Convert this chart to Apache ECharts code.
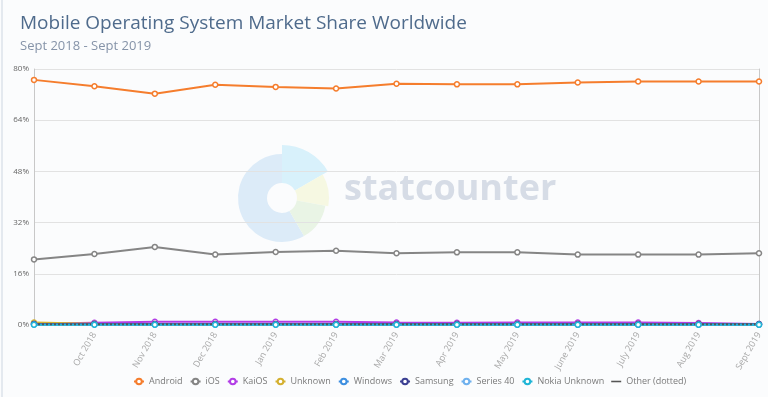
<!DOCTYPE html>
<html>
<head>
<meta charset="utf-8">
<script src="https://cdn.jsdelivr.net/npm/echarts@6/dist/echarts.min.js"></script>
<style>html,body{margin:0;padding:0;background:#fbfcfd;}#c{width:768px;height:397px;}</style>
</head>
<body>
<div id="c"></div>
<script>
const categories = ['Sept 2018','Oct 2018','Nov 2018','Dec 2018','Jan 2019','Feb 2019','Mar 2019','Apr 2019','May 2019','June 2019','July 2019','Aug 2019','Sept 2019'];
const yTicks = [0, 16, 32, 48, 64, 80];
const android = [76.6, 74.6, 72.3, 75.1, 74.4, 73.9, 75.4, 75.2, 75.2, 75.8, 76.1, 76.1, 76.1];
const ios = [20.5, 22.2, 24.4, 22.0, 22.8, 23.2, 22.4, 22.7, 22.7, 22.0, 22.0, 22.0, 22.4];
const kaios = [0.4, 0.7, 1.0, 1.0, 1.0, 1.0, 0.8, 0.7, 0.8, 0.8, 0.8, 0.6, 0.3];
const unknown = [0.8, 0.4, 0.3, 0.3, 0.3, 0.3, 0.3, 0.3, 0.3, 0.3, 0.3, 0.3, 0.2];
const windows = [0.3, 0.3, 0.2, 0.2, 0.2, 0.1, 0.1, 0.1, 0.1, 0.1, 0.1, 0.1, 0.1];
const samsung = [0.3, 0.3, 0.3, 0.3, 0.3, 0.3, 0.3, 0.3, 0.3, 0.3, 0.3, 0.3, 0.3];
const series40 = [0.1, 0.1, 0.1, 0.1, 0.1, 0.1, 0.1, 0.1, 0.1, 0.1, 0.1, 0.1, 0.1];
const nokiaUnknown = [0.1, 0.1, 0.1, 0.1, 0.1, 0.1, 0.1, 0.1, 0.1, 0.1, 0.1, 0.1, 0.1];
const other = [0.2, 0.2, 0.2, 0.2, 0.2, 0.2, 0.2, 0.2, 0.2, 0.2, 0.2, 0.2, 0.2];

const seriesDefs = [
  ['Android', android, '#f57d2d'],
  ['iOS', ios, '#858585'],
  ['KaiOS', kaios, '#b23ee6'],
  ['Unknown', unknown, '#d4b030'],
  ['Windows', windows, '#3d8fe0'],
  ['Samsung', samsung, '#3b3f92'],
  ['Series 40', series40, '#6fb1ee'],
  ['Nokia Unknown', nokiaUnknown, '#1fb5d6'],
];

const chart = echarts.init(document.getElementById('c'), null, {renderer: 'canvas'});
const series = seriesDefs.map(([name, data, color]) => ({
  name, type: 'line', data,
  symbol: 'circle', symbolSize: 5, showSymbol: true,
  itemStyle: {color: '#ffffff', borderColor: color, borderWidth: 1.5},
  lineStyle: {color, width: 2},
  color: color,
  animation: false, z: 3
}));
series.push({
  name: 'Other (dotted)', type: 'line', data: other,
  symbol: 'none', color: '#555555',
  lineStyle: {color: '#555555', width: 2, type: 'dotted'},
  animation: false, z: 3
});

chart.setOption({
  backgroundColor: '#fbfcfd',
  animation: false,
  title: [
    {text: 'Mobile Operating System Market Share Worldwide', left: 15, top: 9,
     textStyle: {fontFamily: 'Open Sans', fontSize: 19, fontWeight: 'normal', color: '#4f6b8c'}},
    {text: 'Sept 2018 - Sept 2019', left: 15, top: 35,
     textStyle: {fontFamily: 'Open Sans', fontSize: 13, fontWeight: 'normal', color: '#8593a8'}}
  ],
  graphic: [
    {type: 'rect', left: 1, top: 0, shape: {width: 2, height: 397}, style: {fill: '#e4e9ef'}, z: -5},
    {type: 'sector', shape: {cx: 282, cy: 198, r: 44, r0: 15, startAngle: Math.PI / 3, endAngle: Math.PI * 1.5, clockwise: true}, style: {fill: '#dcebf8'}, z: -5, silent: true},
    {type: 'sector', shape: {cx: 282, cy: 198, r: 53, r0: 15, startAngle: -Math.PI / 2, endAngle: -Math.PI / 6, clockwise: true}, style: {fill: '#d8f1fb'}, z: -5, silent: true},
    {type: 'sector', shape: {cx: 282, cy: 198, r: 47, r0: 15, startAngle: -Math.PI / 6, endAngle: Math.PI / 18, clockwise: true}, style: {fill: '#f6f8e2'}, z: -5, silent: true},
    {type: 'sector', shape: {cx: 282, cy: 198, r: 44, r0: 15, startAngle: Math.PI / 18, endAngle: Math.PI / 3, clockwise: true}, style: {fill: '#e9f4e5'}, z: -5, silent: true},
    {type: 'text', left: 344, top: 172, style: {text: 'statcounter', fontFamily: 'Open Sans', fontWeight: 'bold', fontSize: 36, fill: '#d6dce6'}, z: -5, silent: true}
  ],
  legend: {
    top: 372, left: 128, itemGap: 7, itemWidth: 10, itemHeight: 7,
    textStyle: {fontFamily: 'Open Sans', fontSize: 9, color: '#7a7a7a'},
    data: seriesDefs.map(d => d[0]).concat([{name: 'Other (dotted)', icon: 'path://M0,0 L16,0 L16,2.5 L0,2.5 Z', itemStyle: {color: '#555'}}])
  },
  grid: {left: 34, right: 9, top: 69, bottom: 72, containLabel: false},
  xAxis: {
    type: 'category', data: categories, boundaryGap: false,
    axisLine: {lineStyle: {color: '#cccccc'}},
    axisTick: {show: false},
    axisLabel: {rotate: 60, fontFamily: 'Open Sans', fontSize: 9, color: '#a8a8a8', margin: 8,
      interval: (i) => i > 0},
    splitLine: {show: false}
  },
  yAxis: [{
    type: 'value', min: yTicks[0], max: yTicks[yTicks.length - 1], interval: 16,
    axisLine: {show: true, lineStyle: {color: '#c8c8c8'}},
    axisTick: {show: false},
    axisLabel: {formatter: '{value}%', fontFamily: 'Open Sans', fontSize: 8, color: '#666', margin: 5},
    splitLine: {lineStyle: {color: '#e2e2e2'}}
  }, {
    type: 'value', min: 0, max: 80, interval: 16, position: 'right',
    axisLine: {show: true, lineStyle: {color: '#c8c8c8'}},
    axisTick: {show: false}, axisLabel: {show: false}, splitLine: {show: false}
  }],
  series
});
</script>
</body>
</html>
